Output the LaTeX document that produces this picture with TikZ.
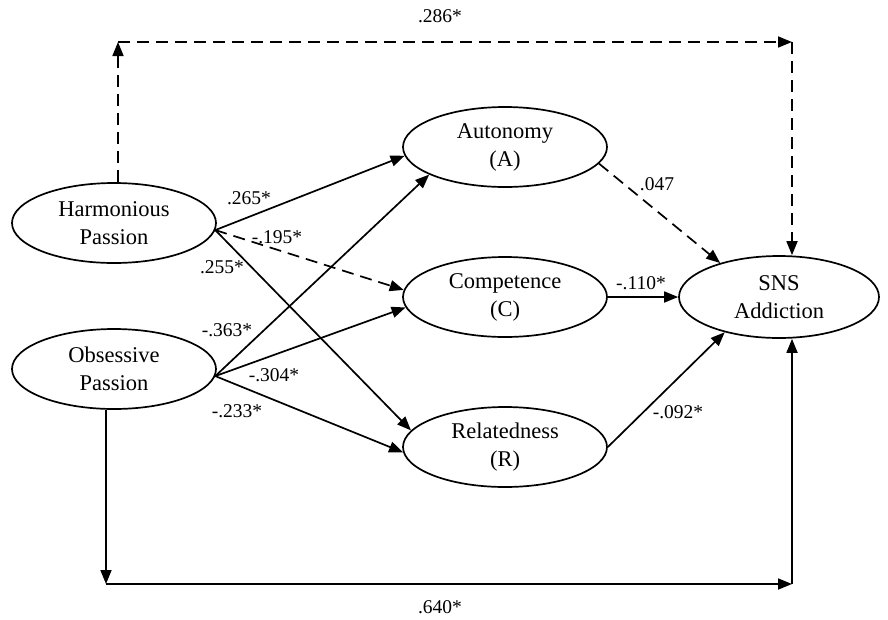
\documentclass[tikz,border=0pt]{standalone}
\usepackage{fontspec}
\setmainfont{Liberation Serif}
\usetikzlibrary{arrows.meta,shapes.geometric}
\begin{document}
\begin{tikzpicture}[x=1pt,y=-1pt,
  var/.style={ellipse,draw,line width=1.7pt,minimum width=204pt,minimum height=80pt,inner sep=0pt,align=center,font=\fontsize{22.5}{28}\selectfont},
  arr/.style={line width=1.7pt,-{Triangle[length=14pt,width=11pt]}},
  darr/.style={arr,dash pattern=on 12pt off 7pt},
  lab/.style={font=\fontsize{19.5}{22}\selectfont,inner sep=0pt}]
\useasboundingbox (0,0) rectangle (888,619);
% nodes
\node[var] (hp) at (114,223) {Harmonious\\Passion};
\node[var] (op) at (114,369) {Obsessive\\Passion};
\node[var] (a) at (505,147) {Autonomy\\(A)};
\node[var] (c) at (505,297) {Competence\\(C)};
\node[var] (r) at (505,447) {Relatedness\\(R)};
\node[var,minimum width=200pt,minimum height=82pt] (s) at (779,297) {SNS\\Addiction};
% corner coordinates
\coordinate (tl) at (118,42);
\coordinate (tr) at (792,42);
\coordinate (bl) at (106,584);
\coordinate (br) at (792,584);
% top dashed path
\draw[darr] (hp.north -| tl) -- (tl);
\draw[darr] (tl) -- (tr);
\draw[darr] (tr) -- (s.north -| tr);
% bottom path
\draw[arr] (op.south -| bl) -- (bl);
\draw[arr] (bl) -- (br);
\draw[arr] (br) -- (s.south -| br);
% from HP
\draw[arr] (hp.-4) -- (a.185);
\draw[darr] (hp.-4) -- (c.176);
\draw[arr] (hp.-4) -- (r.170);
% from OP
\draw[arr] (op.-4) -- (a.200);
\draw[arr] (op.-4) -- (c.186);
\draw[arr] (op.-4) -- (r.183);
% to SNS
\draw[darr] (a.-10) -- (s.150);
\draw[arr] (c.east) -- (s.west);
\draw[arr] (r.east) -- (s.213);
% labels
\node[lab] (l1) at (440,16) {.286*};
\node[lab] (l2) at (249,198) {.265*};
\node[lab] (l3) at (277,237) {-.195*};
\node[lab] (l4) at (222,267) {.255*};
\node[lab] (l5) at (227,330) {-.363*};
\node[lab] (l6) at (274,375) {-.304*};
\node[lab] (l7) at (237,411) {-.233*};
\node[lab] (l8) at (657,184) {.047};
\node[lab] (l9) at (641,283) {-.110*};
\node[lab] (l10) at (678,412) {-.092*};
\node[lab] (l11) at (440,607) {.640*};
\end{tikzpicture}
\end{document}
